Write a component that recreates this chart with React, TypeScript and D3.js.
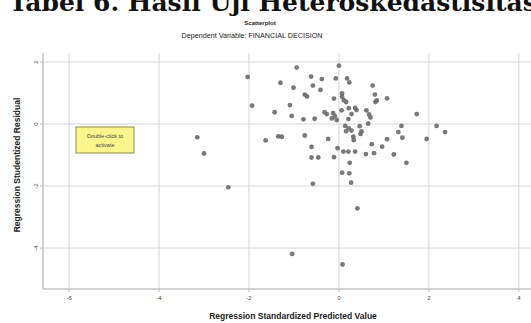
import React from 'react'
import * as d3 from 'd3'

// standardized predicted value (x) and studentized residual (y)
const predicted = [
  -0.94, 0.0, -0.62, -0.38, -0.07, 0.18, 0.23, -1.3, -0.58, -1.01,
  -0.41, 0.75, -0.76, -0.71, 0.07, 0.07, 0.11, 0.16, -0.11, 0.8,
  0.84, 0.81, 1.07, -1.09, -1.43, -1.05, -0.79, -0.54, -0.32, -0.27,
  -0.13, -0.09, -0.16, -0.05, 0.06, 0.22, 0.36, 0.39, 0.28, 0.21,
  0.61, 0.67, 0.7, 1.73, 0.14, 0.22, 0.28, 0.16, 0.46, 0.5,
  0.65, 0.32, 0.33, 0.48, 1.39, 1.32, 1.41, 2.17, 2.36, 1.95,
  1.07, -1.63, -1.35, -1.27, -0.76, -0.24, -0.61, -0.03, 0.1, 0.21,
  0.36, 0.73, 0.96, 0.6, 0.78, 1.22, -0.61, -0.46, -0.11, 0.24,
  1.5, 0.07, 0.23, -0.58, 0.27, -2.03, -1.93, -3.15, -3.0, -2.46,
  0.41, -1.04, 0.08,
]
const residual = [
  1.82, 1.88, 1.53, 1.45, 1.47, 1.47, 1.34, 1.33, 1.24, 1.17,
  1.1, 1.24, 0.95, 0.89, 0.99, 0.88, 0.77, 0.71, 0.82, 0.95,
  0.76, 0.71, 0.83, 0.61, 0.38, 0.26, 0.15, 0.17, 0.38, 0.32,
  0.35, 0.25, 0.18, 0.13, 0.44, 0.51, 0.52, 0.45, 0.32, 0.16,
  0.44, 0.31, 0.21, 0.32, -0.06, -0.14, -0.21, -0.23, -0.07, -0.24,
  0.01, -0.41, -0.52, -0.32, -0.06, -0.26, -0.44, -0.06, -0.26, -0.48,
  -0.49, -0.53, -0.4, -0.41, -0.37, -0.48, -0.74, -0.78, -0.89, -0.89,
  -0.89, -0.65, -0.73, -0.97, -0.94, -0.98, -1.08, -1.08, -1.07, -1.25,
  -1.25, -1.57, -1.59, -1.93, -1.89, 1.52, 0.59, -0.43, -0.95, -2.04,
  -2.72, -4.19, -4.53,
]
const xTicks = [-6, -4, -2, 0, 2, 4]
const yTicks = [2, 0, -2, -4]

const pageTitle = 'Tabel 6. Hasil Uji Heteroskedastisitas'
const chartTitle = 'Scatterplot'
const chartSubtitle = 'Dependent Variable: FINANCIAL DECISION'
const xLabel = 'Regression Standardized Predicted Value'
const yLabel = 'Regression Studentized Residual'
const noteLines = ['Double-click to', 'activate']

export default function App() {
  const width = 531
  const height = 323
  const left = 43
  const right = 531
  const top = 53
  const bottom = 289

  const x = d3.scaleLinear().domain([-6.58, 4.27]).range([left, right])
  const y = d3.scaleLinear().domain([-5.32, 2.29]).range([bottom, top])

  const sans = '"Liberation Sans", Arial, sans-serif'

  return (
    <svg
      width={width}
      height={height}
      style={{ position: 'absolute', left: 0, top: 0, background: '#fff' }}
    >
      {/* page caption, cropped at the top and right like the scan */}
      <text
        x={9}
        y={11}
        fontFamily='"DejaVu Serif", serif'
        fontWeight="bold"
        fontSize={25}
        fill="#111"
      >
        {pageTitle}
      </text>

      <text x={260} y={25} textAnchor="middle" fontFamily={sans} fontWeight="bold" fontSize={6} fill="#222">
        {chartTitle}
      </text>
      <text x={252} y={38} textAnchor="middle" fontFamily={sans} fontSize={7.2} fill="#222">
        {chartSubtitle}
      </text>

      {/* grid */}
      {xTicks.map(t => (
        <line key={'gx' + t} x1={x(t)} x2={x(t)} y1={top} y2={bottom} stroke="#d6d6d6" strokeWidth={1} />
      ))}
      {yTicks.map(t => (
        <line key={'gy' + t} x1={left} x2={right} y1={y(t)} y2={y(t)} stroke="#d6d6d6" strokeWidth={1} />
      ))}

      {/* axes */}
      <line x1={left} x2={left} y1={top} y2={bottom} stroke="#c4c4c4" strokeWidth={1.5} />
      <line x1={left} x2={right} y1={bottom} y2={bottom} stroke="#c4c4c4" strokeWidth={1.5} />

      {yTicks.map(t => (
        <g key={'ty' + t}>
          <line x1={left - 3} x2={left} y1={y(t)} y2={y(t)} stroke="#bbb" />
          <text
            transform={`translate(${left - 5},${y(t)}) rotate(-90)`}
            textAnchor="middle"
            fontFamily={sans}
            fontSize={6}
            fill="#444"
          >
            {t}
          </text>
        </g>
      ))}
      {xTicks.map(t => (
        <g key={'tx' + t}>
          <line x1={x(t)} x2={x(t)} y1={bottom} y2={bottom + 3} stroke="#bbb" />
          <text x={x(t)} y={bottom + 11} textAnchor="middle" fontFamily={sans} fontSize={6} fill="#444">
            {t}
          </text>
        </g>
      ))}

      <text x={293} y={319} textAnchor="middle" fontFamily={sans} fontWeight="bold" fontSize={8.5} fill="#222">
        {xLabel}
      </text>
      <text
        transform={`translate(20,${165}) rotate(-90)`}
        textAnchor="middle"
        fontFamily={sans}
        fontWeight="bold"
        fontSize={8.5}
        fill="#222"
      >
        {yLabel}
      </text>

      {/* points */}
      {predicted.map((p, i) => (
        <circle key={i} cx={x(p)} cy={y(residual[i])} r={2.4} fill="#6a6a6a" fillOpacity={0.9} />
      ))}

      {/* SPSS activation note */}
      <rect x={76} y={127} width={58} height={26} fill="#fbf58c" stroke="#8c8a4a" strokeWidth={1} />
      {noteLines.map((l, i) => (
        <text key={l} x={105} y={138 + i * 9} textAnchor="middle" fontFamily={sans} fontSize={5.5} fill="#444">
          {l}
        </text>
      ))}
    </svg>
  )
}
